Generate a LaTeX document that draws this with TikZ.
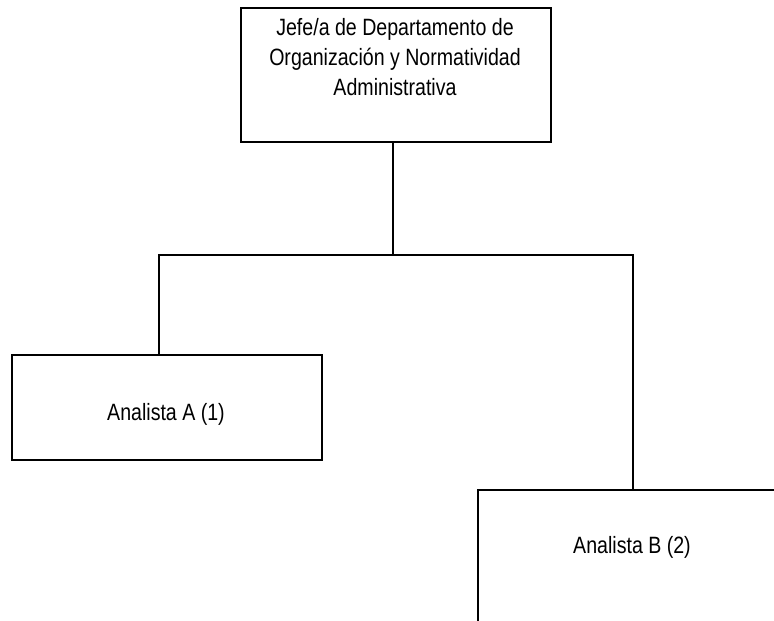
\documentclass[tikz,border=0pt]{standalone}
\usepackage{fontspec}
\setmainfont{Liberation Sans}[FakeStretch=0.83]
\begin{document}
\begin{tikzpicture}[x=1pt,y=-1pt,
  box/.style={draw=black,line width=2pt,fill=white},
  conn/.style={draw=black,line width=2pt},
  lbl/.style={font=\fontsize{23.6}{30}\selectfont,align=center,inner sep=0pt}]
\useasboundingbox (0,0) rectangle (774,621);
\clip (0,0) rectangle (774,621);
% boxes
\node[box,minimum width=310pt,minimum height=134pt,anchor=north west] (jefe) at (240,7) {};
\node[box,minimum width=310pt,minimum height=105pt,anchor=north west] (ana) at (11,354) {};
\node[box,minimum width=310pt,minimum height=160pt,anchor=north west] (anb) at (477,489) {};
% texts
\node[lbl,anchor=north] (tj) at (395,18) {Jefe/a de Departamento de\\Organización y Normatividad\\Administrativa};
\node[lbl,anchor=base] (ta) at (166,420) {Analista A (1)};
\node[lbl,anchor=base] (tb) at (632,553) {Analista B (2)};
% connectors
\coordinate (bus) at (393,255);
\draw[conn] (jefe.south -| bus) -- (bus);
\draw[conn] (ana.north -| 159,0) |- (bus) -| (anb.north -| 633,0);
\end{tikzpicture}
\end{document}
